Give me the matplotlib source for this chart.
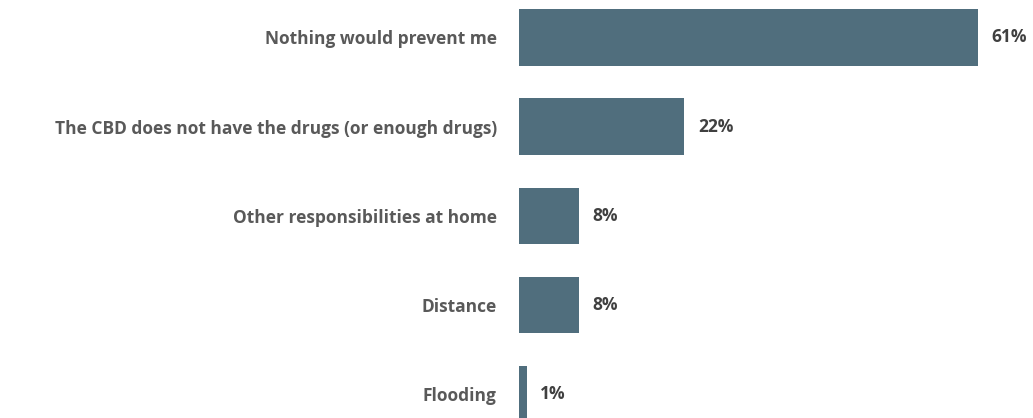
import matplotlib
matplotlib.use('Agg')
import matplotlib.pyplot as plt

categories = [
    'Nothing would prevent me',
    'The CBD does not have the drugs (or enough drugs)',
    'Other responsibilities at home',
    'Distance',
    'Flooding',
]
values = [61, 22, 8, 8, 1]

bar_color = '#506E7D'
label_color = '#595959'
value_color = '#404040'

plt.rcParams['font.family'] = ['Open Sans', 'DejaVu Sans']

fig = plt.figure(figsize=(10.33, 4.18), dpi=100)
# axes placed in pixel terms: left edge at 519px, 7.52px per percent
left = 519 / 1033
width = 65 * 7.52 / 1033
ax = fig.add_axes([left, 0, width, 1])

y = list(range(len(categories)))
ax.barh(y, values, height=0.63, color=bar_color)
ax.set_xlim(0, 65)
ax.set_ylim(4.27, -0.42)

for yi, v in zip(y, values):
    ax.text(v + 1.8, yi, f'{v}%', va='center', ha='left',
            fontsize=12.5, fontweight='bold', color=value_color)

ax.set_yticks(y)
ax.set_yticklabels(categories, fontsize=12.5, fontweight='bold', color=label_color)
ax.tick_params(axis='y', length=0, pad=16)
ax.set_xticks([])
for s in ax.spines.values():
    s.set_visible(False)

fig.savefig('out.png', dpi=100)
